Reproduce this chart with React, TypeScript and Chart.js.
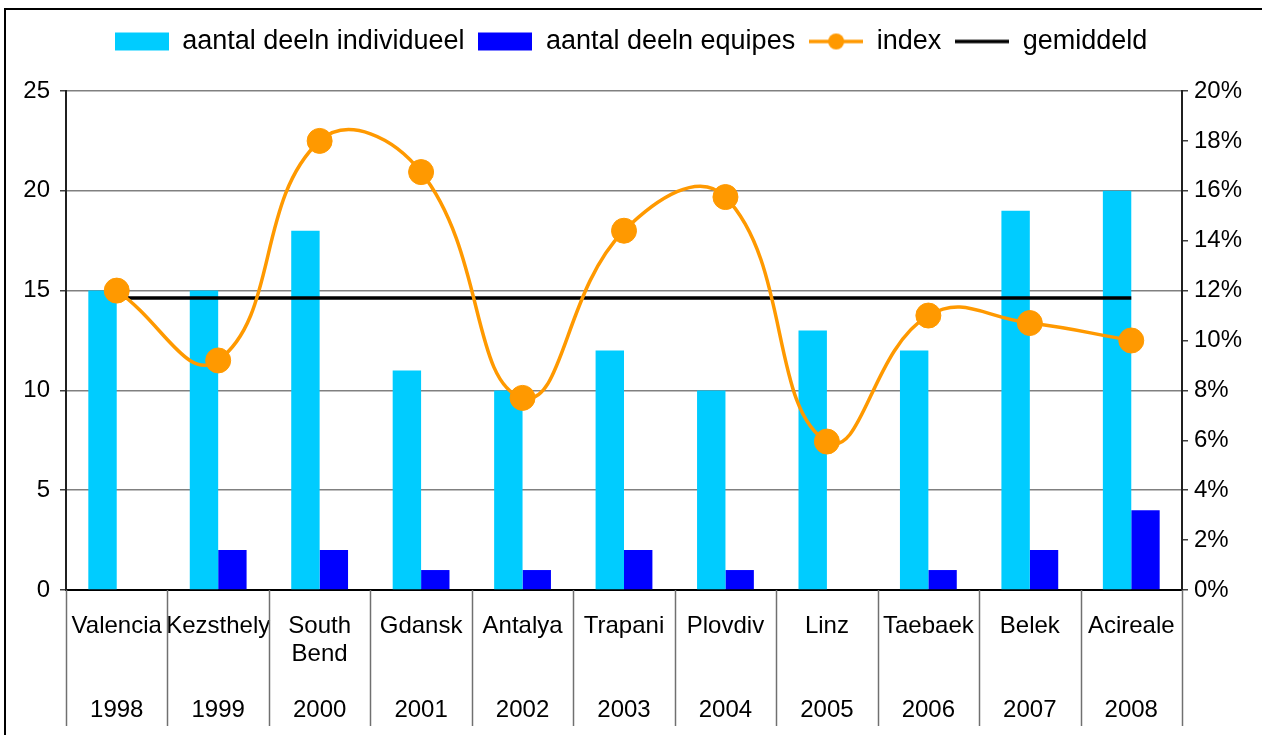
import React, { useEffect, useRef } from "react";
import { Chart, registerables } from "chart.js";

Chart.register(...registerables);

const cities = ["Valencia", "Kezsthely", "South Bend", "Gdansk", "Antalya", "Trapani", "Plovdiv", "Linz", "Taebaek", "Belek", "Acireale"];
const years = ["1998", "1999", "2000", "2001", "2002", "2003", "2004", "2005", "2006", "2007", "2008"];
const individueel = [15, 15, 18, 11, 10, 12, 10, 13, 12, 19, 20];
const equipes = [0, 2, 2, 1, 1, 2, 1, 0, 1, 2, 4];
const indexPct = [12.0, 9.2, 18.0, 16.75, 7.7, 14.4, 15.75, 5.95, 11.0, 10.7, 10.0];
const gemiddeld = [11.7, 11.7, 11.7, 11.7, 11.7, 11.7, 11.7, 11.7, 11.7, 11.7, 11.7];
const leftTicks = [0, 5, 10, 15, 20, 25];
const rightTicks = [0, 2, 4, 6, 8, 10, 12, 14, 16, 18, 20];

const CYAN = "#00CCFF";
const BLUE = "#0000FF";
const ORANGE = "#FF9900";
const FONT = "'Liberation Sans', Arial, sans-serif";

function makeIcon(kind: string): HTMLCanvasElement {
  const c = document.createElement("canvas");
  c.width = 54;
  c.height = 20;
  const ctx = c.getContext("2d")!;
  if (kind === "cyan" || kind === "blue") {
    ctx.fillStyle = kind === "cyan" ? CYAN : BLUE;
    ctx.fillRect(0, 1, 54, 18);
  } else if (kind === "orange") {
    ctx.strokeStyle = ORANGE;
    ctx.lineWidth = 3.5;
    ctx.beginPath();
    ctx.moveTo(0, 10);
    ctx.lineTo(54, 10);
    ctx.stroke();
    ctx.fillStyle = ORANGE;
    ctx.beginPath();
    ctx.arc(27, 10, 8, 0, Math.PI * 2);
    ctx.fill();
  } else {
    ctx.strokeStyle = "#000";
    ctx.lineWidth = 3.5;
    ctx.beginPath();
    ctx.moveTo(0, 10);
    ctx.lineTo(54, 10);
    ctx.stroke();
  }
  return c;
}

function splitName(name: string): string[] {
  const parts = name.split(" ");
  if (parts.length > 1) return [parts[0], parts.slice(1).join(" ")];
  return [name, ""];
}

const separatorPlugin = {
  id: "separators",
  afterDraw(chart: any) {
    const ctx = chart.ctx;
    const xs = chart.scales.x;
    const n = cities.length;
    const bottom = chart.chartArea.bottom;
    ctx.save();
    ctx.strokeStyle = "#707070";
    ctx.lineWidth = 1.5;
    for (let i = 0; i <= n; i++) {
      const x = Math.round(xs.left + (i * (xs.right - xs.left)) / n) + 0.5;
      ctx.beginPath();
      ctx.moveTo(x, bottom);
      ctx.lineTo(x, 726);
      ctx.stroke();
    }
    // outer frame
    ctx.strokeStyle = "#000";
    ctx.lineWidth = 2;
    ctx.beginPath();
    ctx.moveTo(5, 735);
    ctx.lineTo(5, 9);
    ctx.lineTo(1262, 9);
    ctx.stroke();
    ctx.restore();
  },
};

const legendFitPlugin = {
  id: "legendFit",
  beforeInit(chart: any) {
    const legend = chart.legend;
    if (legend) {
      const orig = legend.fit;
      legend.fit = function () {
        orig.call(this);
        this.height = 77;
      };
    }
  },
};

export default function App() {
  const ref = useRef<HTMLCanvasElement>(null);

  useEffect(() => {
    if (!ref.current) return;
    const icons = [makeIcon("cyan"), makeIcon("blue"), makeIcon("orange"), makeIcon("black")];
    const labels = cities.map((c, i) => [...splitName(c), "", years[i]]);
    const chart = new Chart(ref.current, {
      type: "bar",
      data: {
        labels,
        datasets: [
          {
            type: "bar",
            label: "aantal deeln individueel",
            data: individueel,
            backgroundColor: CYAN,
            yAxisID: "y",
            order: 2,
            categoryPercentage: 0.56,
            barPercentage: 1,
          },
          {
            type: "bar",
            label: "aantal deeln equipes",
            data: equipes,
            backgroundColor: BLUE,
            yAxisID: "y",
            order: 2,
            categoryPercentage: 0.56,
            barPercentage: 1,
          },
          {
            type: "line",
            label: "index",
            data: indexPct,
            borderColor: ORANGE,
            backgroundColor: ORANGE,
            borderWidth: 3.5,
            tension: 0.45,
            pointRadius: 12.5,
            pointBorderWidth: 1,
            pointBackgroundColor: ORANGE,
            pointBorderColor: ORANGE,
            yAxisID: "y1",
            order: 0,
          },
          {
            type: "line",
            label: "gemiddeld",
            data: gemiddeld,
            borderColor: "#000",
            backgroundColor: "#000",
            borderWidth: 3.5,
            pointRadius: 0,
            yAxisID: "y1",
            order: 1,
          },
        ] as any,
      },
      plugins: [legendFitPlugin, separatorPlugin],
      options: {
        responsive: false,
        animation: false,
        devicePixelRatio: 1,
        layout: { padding: { top: 14, left: 0, right: 0, bottom: 0 } },
        plugins: {
          tooltip: { enabled: false },
          legend: {
            position: "top",
            labels: {
              usePointStyle: true,
              pointStyleWidth: 54,
              boxHeight: 18,
              padding: 14,
              color: "#000",
              font: { family: FONT, size: 27 },
              sort: (a: any, b: any) => a.datasetIndex - b.datasetIndex,
              generateLabels: (chart: any) => {
                const items = Chart.defaults.plugins.legend.labels.generateLabels(chart);
                return items.map((it: any) => ({ ...it, pointStyle: icons[it.datasetIndex] }));
              },
            },
          },
        },
        scales: {
          x: {
            offset: true,
            grid: { display: false, drawTicks: false, tickLength: 0 },
            border: { display: true, color: "#000", width: 2 },
            ticks: {
              color: "#000",
              padding: 22,
              autoSkip: false,
              maxRotation: 0,
              font: { family: FONT, size: 24, lineHeight: "28px" },
            },
            afterFit(scale: any) {
              scale.height = 145;
            },
          },
          y: {
            position: "left",
            min: 0,
            max: 25,
            afterBuildTicks(scale: any) {
              scale.ticks = leftTicks.map((v) => ({ value: v }));
            },
            grid: { color: "#808080", lineWidth: 1.5, tickLength: 6, tickColor: "#404040" },
            border: { display: true, color: "#202020", width: 2 },
            ticks: { color: "#000", padding: 10, font: { family: FONT, size: 24 } },
            afterFit(scale: any) {
              scale.width = 66;
            },
          },
          y1: {
            position: "right",
            min: 0,
            max: 20,
            afterBuildTicks(scale: any) {
              scale.ticks = rightTicks.map((v) => ({ value: v }));
            },
            grid: { drawOnChartArea: false, tickLength: 6, tickColor: "#404040", lineWidth: 1.5 },
            border: { display: true, color: "#202020", width: 2 },
            ticks: {
              color: "#000",
              padding: 6,
              font: { family: FONT, size: 24 },
              callback: (v: any) => v + "%",
            },
            afterFit(scale: any) {
              scale.width = 80;
            },
          },
        },
      } as any,
    });
    return () => chart.destroy();
  }, []);

  return (
    <div style={{ position: "absolute", left: 0, top: 0, width: 1262, height: 735, background: "#fff" }}>
      <canvas ref={ref} width={1262} height={735} style={{ display: "block", width: 1262, height: 735 }} />
    </div>
  );
}
